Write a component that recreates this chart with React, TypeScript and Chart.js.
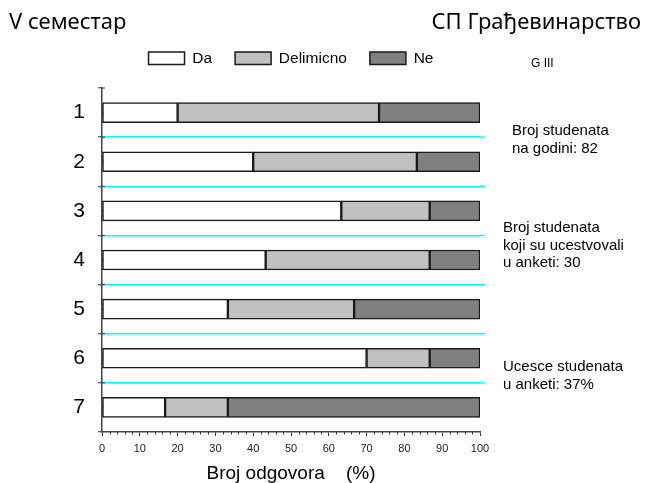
import React, { useEffect, useRef } from "react";
import { Chart, registerables } from "chart.js";

Chart.register(...registerables);

const categories = ["1", "2", "3", "4", "5", "6", "7"];
const daValues = [20, 40, 63.3, 43.3, 33.3, 70, 16.7];
const delimicnoValues = [53.3, 43.3, 23.4, 43.4, 33.4, 16.7, 16.6];
const neValues = [26.7, 16.7, 13.3, 13.3, 33.3, 13.3, 66.7];
const seriesNames = ["Da", "Delimicno", "Ne"];
const leftTitle = "V семестар";
const rightTitle = "СП Грађевинарство";
const groupLabel = "G III";
const xAxisTitle = "Broj odgovora    (%)";
const note1 = ["Broj studenata", "na godini: 82"];
const note2 = ["Broj studenata", "koji su ucestvovali", "u anketi: 30"];
const note3 = ["Ucesce studenata", "u anketi: 37%"];

const SANS = "'Liberation Sans', Arial, sans-serif";

const overlayPlugin = {
  id: "overlay",
  afterDraw(chart: any) {
    const ctx = chart.ctx;
    const xs = chart.scales.x;
    const ys = chart.scales.y;
    ctx.save();
    // minor ticks on x axis
    ctx.strokeStyle = "#333";
    ctx.lineWidth = 1;
    for (let v = 0; v <= 100; v += 2) {
      if (v % 10 === 0) continue;
      const px = Math.round(xs.getPixelForValue(v)) + 0.5;
      ctx.beginPath();
      ctx.moveTo(px, xs.top);
      ctx.lineTo(px, xs.top + 2.5);
      ctx.stroke();
    }
    // y axis ticks extension to the right, and center marks
    const n = categories.length;
    const step = (ys.bottom - ys.top) / n;
    const ax = ys.right;
    for (let i = 0; i < n; i++) {
      const b = ys.top + i * step;
      ctx.beginPath();
      ctx.moveTo(ax, b);
      ctx.lineTo(ax + 3, b);
      ctx.stroke();
      const c = ys.getPixelForValue(i);
      ctx.beginPath();
      ctx.moveTo(ax, c);
      ctx.lineTo(ax + 1.5, c);
      ctx.stroke();
    }
    // cyan separators run slightly past the plot edge
    ctx.strokeStyle = "#00FFFF";
    ctx.lineWidth = 1.5;
    for (let i = 1; i < n; i++) {
      const b = ys.top + i * step;
      ctx.beginPath();
      ctx.moveTo(chart.chartArea.right, b);
      ctx.lineTo(chart.chartArea.right + 5, b);
      ctx.stroke();
    }
    // titles
    ctx.fillStyle = "#000";
    ctx.textBaseline = "alphabetic";
    ctx.font = "22px 'Noto Sans', 'Open Sans', sans-serif";
    ctx.textAlign = "left";
    ctx.fillText(leftTitle, 9, 29);
    ctx.textAlign = "right";
    ctx.fillText(rightTitle, 641, 29);
    // group label
    ctx.textAlign = "left";
    ctx.font = "12px " + SANS;
    ctx.fillText(groupLabel, 531, 67);
    // notes
    ctx.font = "15px " + SANS;
    note1.forEach((t, i) => ctx.fillText(t, 512, 135 + i * 17.7));
    note2.forEach((t, i) => ctx.fillText(t, 503, 232 + i * 17.5));
    note3.forEach((t, i) => ctx.fillText(t, 503, 371 + i * 17.5));
    ctx.restore();
  },
};

export default function App() {
  const canvasRef = useRef<HTMLCanvasElement | null>(null);

  useEffect(() => {
    const canvas = canvasRef.current;
    if (!canvas) return;
    Chart.defaults.font.family = SANS;
    const barCommon = {
      borderColor: "#1a1a1a",
      borderWidth: 1.5,
      borderSkipped: false,
      barThickness: 20,
    };
    const chart = new Chart(canvas, {
      type: "bar",
      data: {
        labels: categories,
        datasets: [
          { label: seriesNames[0], data: daValues, backgroundColor: "#FFFFFF", ...barCommon },
          { label: seriesNames[1], data: delimicnoValues, backgroundColor: "#C0C0C0", ...barCommon },
          { label: seriesNames[2], data: neValues, backgroundColor: "#808080", ...barCommon },
        ],
      } as any,
      options: {
        indexAxis: "y",
        animation: false,
        responsive: false,
        layout: { padding: { left: 72, right: 165, top: 27.5, bottom: 0 } },
        plugins: {
          legend: {
            position: "top",
            fullSize: false,
            labels: {
              boxWidth: 36,
              boxHeight: 12.5,
              padding: 23,
              color: "#000",
              font: { size: 15.5, family: SANS },
            },
          },
          tooltip: { enabled: false },
          title: { display: false },
        },
        scales: {
          x: {
            stacked: true,
            min: 0,
            max: 100,
            position: "bottom",
            ticks: { stepSize: 10, color: "#222", padding: 6, font: { size: 11, family: SANS } },
            grid: { drawOnChartArea: false, drawTicks: true, tickLength: 4, tickColor: "#333", tickWidth: 1 },
            border: { display: true, color: "#444", width: 1.5 },
            title: {
              display: true,
              text: xAxisTitle,
              color: "#000",
              font: { size: 19, family: SANS },
              padding: { top: 0, bottom: -2 },
            },
            afterFit: (s: any) => {
              s.height = 51;
            },
          },
          x2: {
            type: "linear",
            position: "top",
            display: true,
            grid: { display: false },
            border: { display: false },
            ticks: { display: false },
            afterFit: (s: any) => {
              s.height = 12;
            },
          },
          y: {
            stacked: true,
            ticks: { color: "#000", padding: 13, font: { size: 21, family: SANS } },
            grid: {
              offset: true,
              lineWidth: 1.5,
              color: (c: any) =>
                c.index === undefined || c.index === 0 || c.index >= categories.length ? "rgba(0,0,0,0)" : "#00FFFF",
              tickColor: "#333",
              tickLength: 4,
              tickWidth: 1,
            },
            border: { display: true, color: "#444", width: 1.5 },
            afterFit: (s: any) => {
              s.width = 30;
            },
          },
        },
      } as any,
      plugins: [overlayPlugin],
    });
    return () => chart.destroy();
  }, []);

  return (
    <div style={{ position: "absolute", left: 0, top: 0, width: 645, height: 483, background: "#fff" }}>
      <canvas ref={canvasRef} width={645} height={483} />
    </div>
  );
}
